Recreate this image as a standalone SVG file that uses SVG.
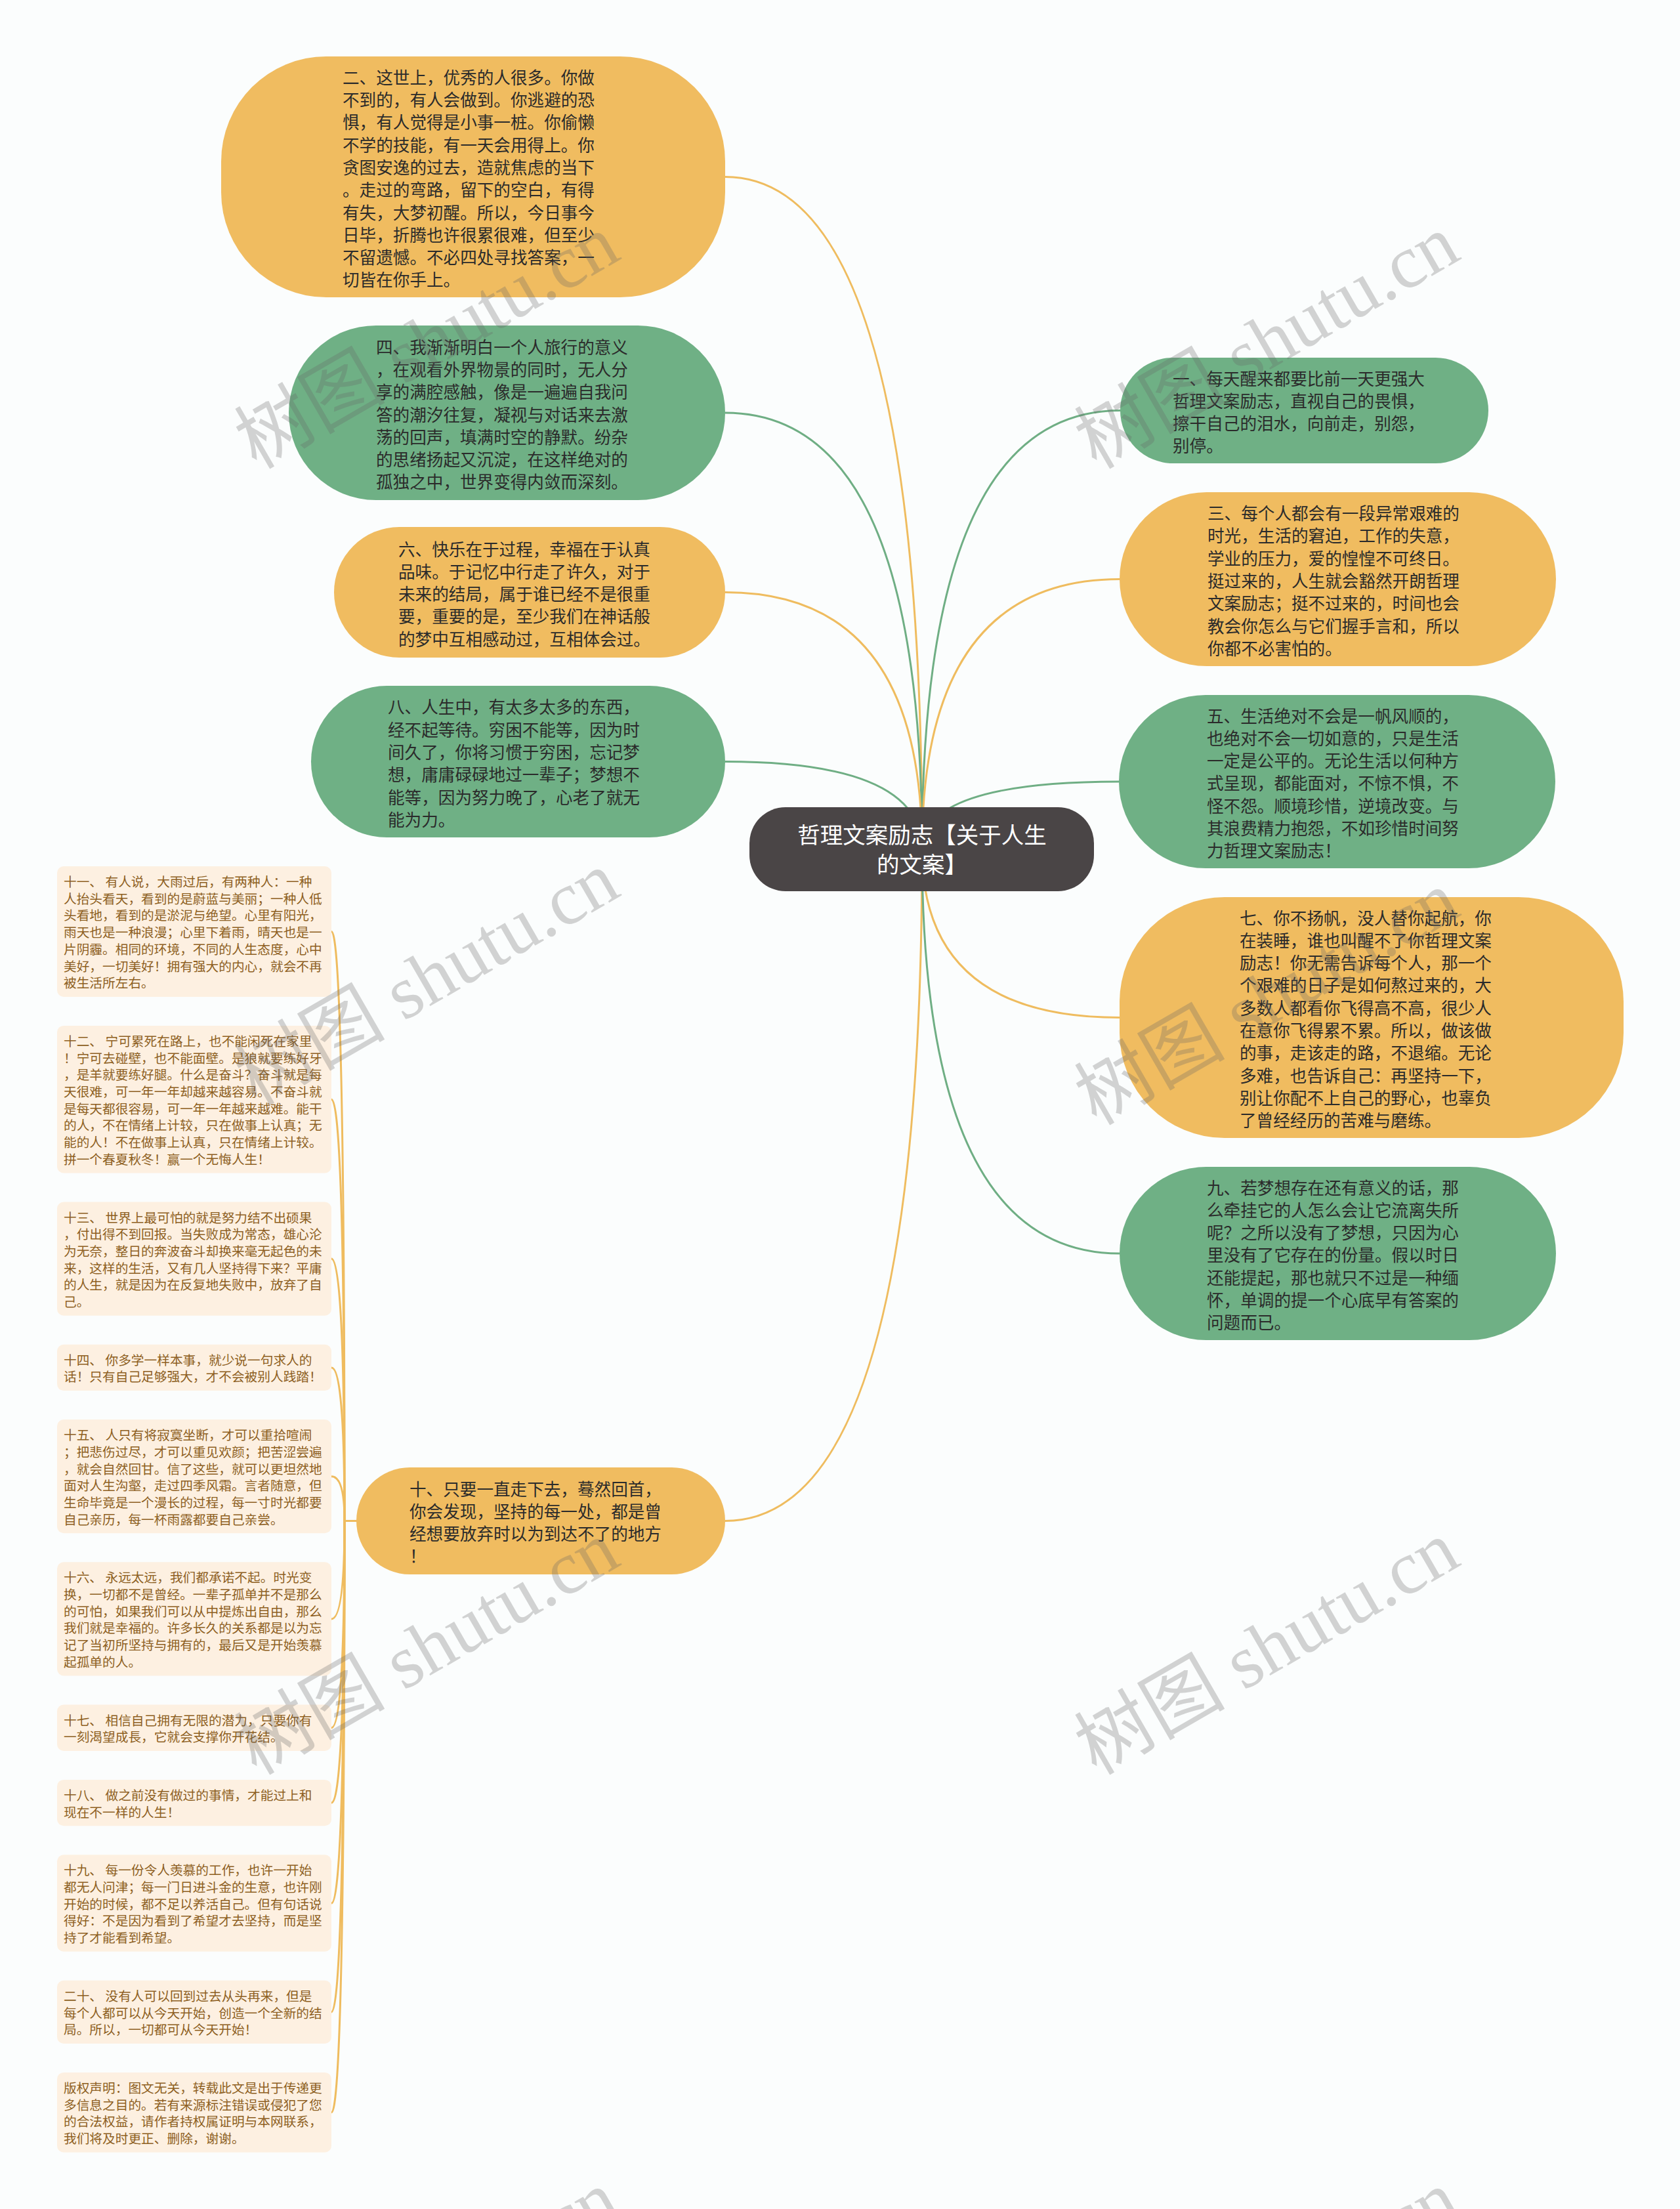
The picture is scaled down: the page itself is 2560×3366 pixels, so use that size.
<svg xmlns="http://www.w3.org/2000/svg" width="2560" height="3366" viewBox="0 0 2560 3366">
<style>
.bg{fill:#fbfdfd}
.o{fill:#f0bc60}
.g{fill:#6fb085}
.root{fill:#4a4546}
.t{font-family:"Noto Sans CJK SC","Noto Sans",sans-serif;font-size:25.6px;fill:#2b2b2b}
.rt{font-family:"Noto Sans CJK SC","Noto Sans",sans-serif;font-size:34.5px;fill:#ffffff;text-anchor:middle}
.lb{fill:#fdf0e1}
.lt{font-family:"Noto Sans CJK SC","Noto Sans",sans-serif;font-size:19.7px;fill:#8d5f22}
.co{fill:none;stroke:#efbc5f;stroke-width:3}
.cg{fill:none;stroke:#6fae84;stroke-width:3}
.wm{font-family:"Liberation Serif","Noto Sans CJK SC",serif;font-size:115px;fill:#666;opacity:0.28;text-anchor:middle}
</style>
<rect class="bg" x="0" y="0" width="2560" height="3366"/>
<g id="connectors">
<path class="co" d="M1405 1294 Q1405 269.5 1105 269.5"/>
<path class="cg" d="M1405 1294 Q1405 629 1105 629"/>
<path class="co" d="M1405 1294 Q1405 902.5 1105 902.5"/>
<path class="cg" d="M1405 1294 Q1405 1160.5 1105 1160.5"/>
<path class="co" d="M1405 1294 Q1405 2317.5 1105 2317.5"/>
<path class="cg" d="M1405 1294 Q1405 625.5 1707 625.5"/>
<path class="co" d="M1405 1294 Q1405 882.5 1706 882.5"/>
<path class="cg" d="M1405 1294 Q1405 1191 1705 1191"/>
<path class="co" d="M1405 1294 Q1405 1550.5 1706 1550.5"/>
<path class="cg" d="M1405 1294 Q1405 1910 1706 1910"/>
<path class="co" d="M543 2317.5 H525 Q525 1419.5 505 1419.5"/>
<path class="co" d="M543 2317.5 H525 Q525 1675.2 505 1675.2"/>
<path class="co" d="M543 2317.5 H525 Q525 1918.1 505 1918.1"/>
<path class="co" d="M543 2317.5 H525 Q525 2083.9 505 2083.9"/>
<path class="co" d="M543 2317.5 H525 Q525 2249.7 505 2249.7"/>
<path class="co" d="M543 2317.5 H525 Q525 2466.9 505 2466.9"/>
<path class="co" d="M543 2317.5 H525 Q525 2632.7 505 2632.7"/>
<path class="co" d="M543 2317.5 H525 Q525 2747.1 505 2747.1"/>
<path class="co" d="M543 2317.5 H525 Q525 2900.1 505 2900.1"/>
<path class="co" d="M543 2317.5 H525 Q525 3065.9 505 3065.9"/>
<path class="co" d="M543 2317.5 H525 Q525 3218.8 505 3218.8"/>
</g>
<g id="root">
<rect class="root" x="1142" y="1230" width="525" height="128" rx="55" ry="55"/>
<text class="rt" x="1405" y="1284.5">哲理文案励志【关于人生</text>
<text class="rt" x="1405" y="1329.5">的文案】</text>
</g>
<g id="n2">
<rect class="o" x="337" y="86" width="768" height="367" rx="160" ry="160"/>
<text class="t" x="522" y="127.7"><tspan x="522">二、这世上，优秀的人很多。你做</tspan><tspan x="522" dy="34.3">不到的，有人会做到。你逃避的恐</tspan><tspan x="522" dy="34.3">惧，有人觉得是小事一桩。你偷懒</tspan><tspan x="522" dy="34.3">不学的技能，有一天会用得上。你</tspan><tspan x="522" dy="34.3">贪图安逸的过去，造就焦虑的当下</tspan><tspan x="522" dy="34.3">。走过的弯路，留下的空白，有得</tspan><tspan x="522" dy="34.3">有失，大梦初醒。所以，今日事今</tspan><tspan x="522" dy="34.3">日毕，折腾也许很累很难，但至少</tspan><tspan x="522" dy="34.3">不留遗憾。不必四处寻找答案，一</tspan><tspan x="522" dy="34.3">切皆在你手上。</tspan></text>
</g>
<g id="n4">
<rect class="g" x="440" y="496" width="665" height="266" rx="133" ry="133"/>
<text class="t" x="573" y="538.6"><tspan x="573">四、我渐渐明白一个人旅行的意义</tspan><tspan x="573" dy="34.3">，在观看外界物景的同时，无人分</tspan><tspan x="573" dy="34.3">享的满腔感触，像是一遍遍自我问</tspan><tspan x="573" dy="34.3">答的潮汐往复，凝视与对话来去激</tspan><tspan x="573" dy="34.3">荡的回声，填满时空的静默。纷杂</tspan><tspan x="573" dy="34.3">的思绪扬起又沉淀，在这样绝对的</tspan><tspan x="573" dy="34.3">孤独之中，世界变得内敛而深刻。</tspan></text>
</g>
<g id="n6">
<rect class="o" x="509" y="803" width="596" height="199" rx="99.5" ry="99.5"/>
<text class="t" x="607" y="846.5"><tspan x="607">六、快乐在于过程，幸福在于认真</tspan><tspan x="607" dy="34.3">品味。于记忆中行走了许久，对于</tspan><tspan x="607" dy="34.3">未来的结局，属于谁已经不是很重</tspan><tspan x="607" dy="34.3">要，重要的是，至少我们在神话般</tspan><tspan x="607" dy="34.3">的梦中互相感动过，互相体会过。</tspan></text>
</g>
<g id="n8">
<rect class="g" x="474" y="1045" width="631" height="231" rx="115.5" ry="115.5"/>
<text class="t" x="591" y="1087.3"><tspan x="591">八、人生中，有太多太多的东西，</tspan><tspan x="591" dy="34.3">经不起等待。穷困不能等，因为时</tspan><tspan x="591" dy="34.3">间久了，你将习惯于穷困，忘记梦</tspan><tspan x="591" dy="34.3">想，庸庸碌碌地过一辈子；梦想不</tspan><tspan x="591" dy="34.3">能等，因为努力晚了，心老了就无</tspan><tspan x="591" dy="34.3">能为力。</tspan></text>
</g>
<g id="n10">
<rect class="o" x="543" y="2236" width="562" height="163" rx="81.5" ry="81.5"/>
<text class="t" x="624" y="2278.5"><tspan x="624">十、只要一直走下去，蓦然回首，</tspan><tspan x="624" dy="34.3">你会发现，坚持的每一处，都是曾</tspan><tspan x="624" dy="34.3">经想要放弃时以为到达不了的地方</tspan><tspan x="624" dy="34.3">！</tspan></text>
</g>
<g id="n1">
<rect class="g" x="1707" y="545" width="561" height="161" rx="80.5" ry="80.5"/>
<text class="t" x="1787" y="586.5"><tspan x="1787">一、每天醒来都要比前一天更强大</tspan><tspan x="1787" dy="34.3">哲理文案励志，直视自己的畏惧，</tspan><tspan x="1787" dy="34.3">擦干自己的泪水，向前走，别怨，</tspan><tspan x="1787" dy="34.3">别停。</tspan></text>
</g>
<g id="n3">
<rect class="o" x="1706" y="750" width="665" height="265" rx="132.5" ry="132.5"/>
<text class="t" x="1840" y="792.1"><tspan x="1840">三、每个人都会有一段异常艰难的</tspan><tspan x="1840" dy="34.3">时光，生活的窘迫，工作的失意，</tspan><tspan x="1840" dy="34.3">学业的压力，爱的惶惶不可终日。</tspan><tspan x="1840" dy="34.3">挺过来的，人生就会豁然开朗哲理</tspan><tspan x="1840" dy="34.3">文案励志；挺不过来的，时间也会</tspan><tspan x="1840" dy="34.3">教会你怎么与它们握手言和，所以</tspan><tspan x="1840" dy="34.3">你都不必害怕的。</tspan></text>
</g>
<g id="n5">
<rect class="g" x="1705" y="1059" width="665" height="264" rx="132" ry="132"/>
<text class="t" x="1839" y="1100.5"><tspan x="1839">五、生活绝对不会是一帆风顺的，</tspan><tspan x="1839" dy="34.3">也绝对不会一切如意的，只是生活</tspan><tspan x="1839" dy="34.3">一定是公平的。无论生活以何种方</tspan><tspan x="1839" dy="34.3">式呈现，都能面对，不惊不惧，不</tspan><tspan x="1839" dy="34.3">怪不怨。顺境珍惜，逆境改变。与</tspan><tspan x="1839" dy="34.3">其浪费精力抱怨，不如珍惜时间努</tspan><tspan x="1839" dy="34.3">力哲理文案励志！</tspan></text>
</g>
<g id="n7">
<rect class="o" x="1706" y="1367" width="768" height="367" rx="160" ry="160"/>
<text class="t" x="1889" y="1408.5"><tspan x="1889">七、你不扬帆，没人替你起航，你</tspan><tspan x="1889" dy="34.3">在装睡，谁也叫醒不了你哲理文案</tspan><tspan x="1889" dy="34.3">励志！你无需告诉每个人，那一个</tspan><tspan x="1889" dy="34.3">个艰难的日子是如何熬过来的，大</tspan><tspan x="1889" dy="34.3">多数人都看你飞得高不高，很少人</tspan><tspan x="1889" dy="34.3">在意你飞得累不累。所以，做该做</tspan><tspan x="1889" dy="34.3">的事，走该走的路，不退缩。无论</tspan><tspan x="1889" dy="34.3">多难，也告诉自己：再坚持一下，</tspan><tspan x="1889" dy="34.3">别让你配不上自己的野心，也辜负</tspan><tspan x="1889" dy="34.3">了曾经经历的苦难与磨练。</tspan></text>
</g>
<g id="n9">
<rect class="g" x="1706" y="1778" width="665" height="264" rx="132" ry="132"/>
<text class="t" x="1839" y="1819.5"><tspan x="1839">九、若梦想存在还有意义的话，那</tspan><tspan x="1839" dy="34.3">么牵挂它的人怎么会让它流离失所</tspan><tspan x="1839" dy="34.3">呢？之所以没有了梦想，只因为心</tspan><tspan x="1839" dy="34.3">里没有了它存在的份量。假以时日</tspan><tspan x="1839" dy="34.3">还能提起，那也就只不过是一种缅</tspan><tspan x="1839" dy="34.3">怀，单调的提一个心底早有答案的</tspan><tspan x="1839" dy="34.3">问题而已。</tspan></text>
</g>
<g id="n11">
<rect class="lb" x="87" y="1320" width="418" height="198.9" rx="10"/>
<text class="lt" x="97" y="1351"><tspan x="97">十一、 有人说，大雨过后，有两种人：一种</tspan><tspan x="97" dy="25.7">人抬头看天，看到的是蔚蓝与美丽；一种人低</tspan><tspan x="97" dy="25.7">头看地，看到的是淤泥与绝望。心里有阳光，</tspan><tspan x="97" dy="25.7">雨天也是一种浪漫；心里下着雨，晴天也是一</tspan><tspan x="97" dy="25.7">片阴霾。相同的环境，不同的人生态度，心中</tspan><tspan x="97" dy="25.7">美好，一切美好！拥有强大的内心，就会不再</tspan><tspan x="97" dy="25.7">被生活所左右。</tspan></text>
</g>
<g id="n12">
<rect class="lb" x="87" y="1562.9" width="418" height="224.6" rx="10"/>
<text class="lt" x="97" y="1593.9"><tspan x="97">十二、 宁可累死在路上，也不能闲死在家里</tspan><tspan x="97" dy="25.7">！宁可去碰壁，也不能面壁。是狼就要练好牙</tspan><tspan x="97" dy="25.7">，是羊就要练好腿。什么是奋斗？奋斗就是每</tspan><tspan x="97" dy="25.7">天很难，可一年一年却越来越容易。不奋斗就</tspan><tspan x="97" dy="25.7">是每天都很容易，可一年一年越来越难。能干</tspan><tspan x="97" dy="25.7">的人，不在情绪上计较，只在做事上认真；无</tspan><tspan x="97" dy="25.7">能的人！不在做事上认真，只在情绪上计较。</tspan><tspan x="97" dy="25.7">拼一个春夏秋冬！赢一个无悔人生！</tspan></text>
</g>
<g id="n13">
<rect class="lb" x="87" y="1831.5" width="418" height="173.2" rx="10"/>
<text class="lt" x="97" y="1862.5"><tspan x="97">十三、 世界上最可怕的就是努力结不出硕果</tspan><tspan x="97" dy="25.7">，付出得不到回报。当失败成为常态，雄心沦</tspan><tspan x="97" dy="25.7">为无奈，整日的奔波奋斗却换来毫无起色的未</tspan><tspan x="97" dy="25.7">来，这样的生活，又有几人坚持得下来？平庸</tspan><tspan x="97" dy="25.7">的人生，就是因为在反复地失败中，放弃了自</tspan><tspan x="97" dy="25.7">己。</tspan></text>
</g>
<g id="n14">
<rect class="lb" x="87" y="2048.7" width="418" height="70.4" rx="10"/>
<text class="lt" x="97" y="2079.7"><tspan x="97">十四、 你多学一样本事，就少说一句求人的</tspan><tspan x="97" dy="25.7">话！只有自己足够强大，才不会被别人践踏！</tspan></text>
</g>
<g id="n15">
<rect class="lb" x="87" y="2163.1" width="418" height="173.2" rx="10"/>
<text class="lt" x="97" y="2194.1"><tspan x="97">十五、 人只有将寂寞坐断，才可以重拾喧闹</tspan><tspan x="97" dy="25.7">；把悲伤过尽，才可以重见欢颜；把苦涩尝遍</tspan><tspan x="97" dy="25.7">，就会自然回甘。信了这些，就可以更坦然地</tspan><tspan x="97" dy="25.7">面对人生沟壑，走过四季风霜。言者随意，但</tspan><tspan x="97" dy="25.7">生命毕竟是一个漫长的过程，每一寸时光都要</tspan><tspan x="97" dy="25.7">自己亲历，每一杯雨露都要自己亲尝。</tspan></text>
</g>
<g id="n16">
<rect class="lb" x="87" y="2380.3" width="418" height="173.2" rx="10"/>
<text class="lt" x="97" y="2411.3"><tspan x="97">十六、 永远太远，我们都承诺不起。时光变</tspan><tspan x="97" dy="25.7">换，一切都不是曾经。一辈子孤单并不是那么</tspan><tspan x="97" dy="25.7">的可怕，如果我们可以从中提炼出自由，那么</tspan><tspan x="97" dy="25.7">我们就是幸福的。许多长久的关系都是以为忘</tspan><tspan x="97" dy="25.7">记了当初所坚持与拥有的，最后又是开始羡慕</tspan><tspan x="97" dy="25.7">起孤单的人。</tspan></text>
</g>
<g id="n17">
<rect class="lb" x="87" y="2597.5" width="418" height="70.4" rx="10"/>
<text class="lt" x="97" y="2628.5"><tspan x="97">十七、 相信自己拥有无限的潜力，只要你有</tspan><tspan x="97" dy="25.7">一刻渴望成長，它就会支撑你开花结。</tspan></text>
</g>
<g id="n18">
<rect class="lb" x="87" y="2711.9" width="418" height="70.4" rx="10"/>
<text class="lt" x="97" y="2742.9"><tspan x="97">十八、 做之前没有做过的事情，才能过上和</tspan><tspan x="97" dy="25.7">现在不一样的人生！</tspan></text>
</g>
<g id="n19">
<rect class="lb" x="87" y="2826.3" width="418" height="147.5" rx="10"/>
<text class="lt" x="97" y="2857.3"><tspan x="97">十九、 每一份令人羡慕的工作，也许一开始</tspan><tspan x="97" dy="25.7">都无人问津；每一门日进斗金的生意，也许刚</tspan><tspan x="97" dy="25.7">开始的时候，都不足以养活自己。但有句话说</tspan><tspan x="97" dy="25.7">得好：不是因为看到了希望才去坚持，而是坚</tspan><tspan x="97" dy="25.7">持了才能看到希望。</tspan></text>
</g>
<g id="n20">
<rect class="lb" x="87" y="3017.8" width="418" height="96.1" rx="10"/>
<text class="lt" x="97" y="3048.8"><tspan x="97">二十、 没有人可以回到过去从头再来，但是</tspan><tspan x="97" dy="25.7">每个人都可以从今天开始，创造一个全新的结</tspan><tspan x="97" dy="25.7">局。所以，一切都可从今天开始！</tspan></text>
</g>
<g id="copyright">
<rect class="lb" x="87" y="3157.9" width="418" height="121.8" rx="10"/>
<text class="lt" x="97" y="3188.9"><tspan x="97">版权声明：图文无关，转载此文是出于传递更</tspan><tspan x="97" dy="25.7">多信息之目的。若有来源标注错误或侵犯了您</tspan><tspan x="97" dy="25.7">的合法权益，请作者持权属证明与本网联系，</tspan><tspan x="97" dy="25.7">我们将及时更正、删除，谢谢。</tspan></text>
</g>
<g id="watermarks">
<text class="wm" x="650" y="560" transform="rotate(-30 650 520)">树图 shutu.cn</text>
<text class="wm" x="1930" y="560" transform="rotate(-30 1930 520)">树图 shutu.cn</text>
<text class="wm" x="650" y="1530" transform="rotate(-30 650 1490)">树图 shutu.cn</text>
<text class="wm" x="1930" y="1560" transform="rotate(-30 1930 1520)">树图 shutu.cn</text>
<text class="wm" x="650" y="2550" transform="rotate(-30 650 2510)">树图 shutu.cn</text>
<text class="wm" x="1930" y="2550" transform="rotate(-30 1930 2510)">树图 shutu.cn</text>
<text class="wm" x="650" y="3540" transform="rotate(-30 650 3500)">树图 shutu.cn</text>
<text class="wm" x="1930" y="3540" transform="rotate(-30 1930 3500)">树图 shutu.cn</text>
</g>
</svg>
